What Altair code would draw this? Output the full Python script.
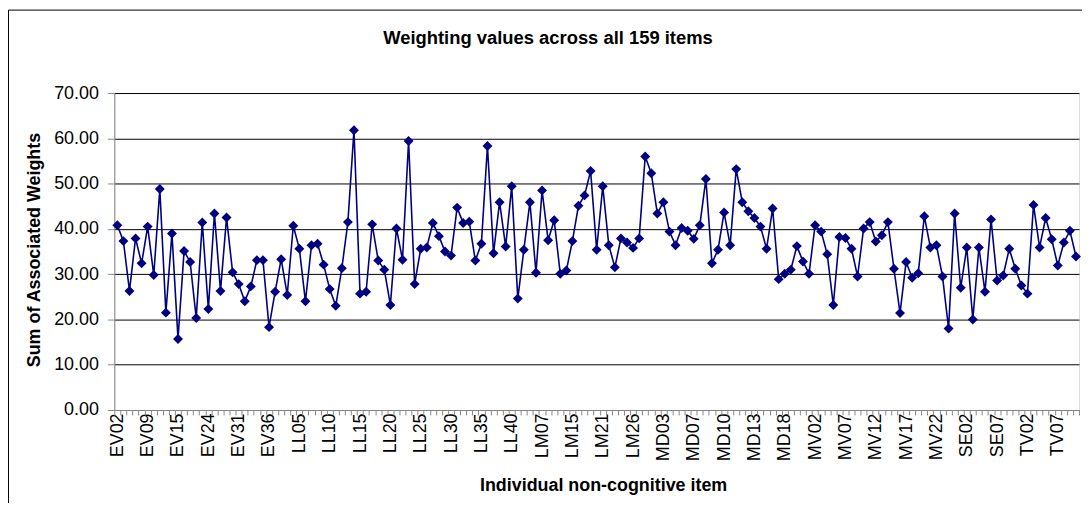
import json
import altair as alt
import pandas as pd

items = [
    "EV02","EV03","EV05","EV06","EV08","EV09","EV10","EV11","EV12","EV14",
    "EV15","EV17","EV19","EV20","EV22","EV24","EV25","EV27","EV28","EV30",
    "EV31","EV32","EV33","EV34","EV35","EV36",
    "LL01","LL02","LL03","LL04","LL05","LL06","LL07","LL08","LL09","LL10",
    "LL11","LL12","LL13","LL14","LL15","LL16","LL17","LL18","LL19","LL20",
    "LL21","LL22","LL23","LL24","LL25","LL26","LL27","LL28","LL29","LL30",
    "LL31","LL32","LL33","LL34","LL35","LL36","LL37","LL38","LL39","LL40",
    "LM03","LM04","LM05","LM06","LM07","LM09","LM10","LM12","LM14","LM15",
    "LM16","LM17","LM18","LM20","LM21","LM22","LM23","LM24","LM25","LM26",
    "LM27","LM28","MD01","MD02",
    "MD03","MD04","MD05","MD05b","MD06","MD07","MD07b","MD08","MD09","MD09b",
    "MD10","MD10b","MD11","MD12","MD12b","MD13","MD14","MD15","MD16","MD17",
    "MD18","MD19","MD20","MD21","MV01",
    "MV02","MV03","MV04","MV05","MV06","MV07","MV08","MV09","MV10","MV11",
    "MV12","MV13","MV14","MV15","MV16","MV17","MV18","MV19","MV20","MV21",
    "MV22","MV23","MV24","MV25","SE01",
    "SE02","SE03","SE04","SE05","SE06","SE07","SE08","SE09","SE10","TV01",
    "TV02","TV03","TV04","TV05","TV06","TV07","TV08","TV09","TV10",
]

weights = [
    40.8, 37.3, 26.3, 37.9, 32.4, 40.5, 29.8, 48.8, 21.5, 39.0,
    15.7, 35.1, 32.7, 20.3, 41.4, 22.3, 43.4, 26.3, 42.5, 30.4,
    27.8, 24.0, 27.3, 33.1, 33.1, 18.3, 26.1, 33.3, 25.4, 40.7,
    35.6, 24.0, 36.4, 36.7, 32.1, 26.7, 23.0, 31.3, 41.5, 61.8,
    25.7, 26.1, 41.0, 33.0, 31.0, 23.2, 40.1, 33.2, 59.4, 27.8,
    35.6, 35.9, 41.3, 38.4, 35.0, 34.1, 44.7, 41.3, 41.6, 33.0,
    36.7, 58.3, 34.6, 45.9, 36.1, 49.4, 24.6, 35.4, 45.9, 30.3,
    48.5, 37.5, 41.9, 30.1, 30.8, 37.3, 45.1, 47.4, 52.8, 35.4,
    49.4, 36.4, 31.5, 37.9, 37.0, 35.8, 37.9, 56.0, 52.3, 43.4,
    45.9, 39.4, 36.4, 40.2, 39.6, 37.8, 40.8, 51.0, 32.4, 35.4,
    43.6, 36.4, 53.2, 45.9, 43.9, 42.4, 40.5, 35.6, 44.5, 28.9,
    30.1, 31.0, 36.2, 32.8, 30.1, 40.8, 39.4, 34.4, 23.2, 38.2,
    38.0, 35.6, 29.5, 40.1, 41.5, 37.2, 38.6, 41.5, 31.2, 21.4,
    32.7, 29.2, 30.2, 42.8, 35.9, 36.4, 29.5, 18.0, 43.4, 27.0,
    35.9, 20.0, 35.9, 26.1, 42.1, 28.6, 29.7, 35.6, 31.2, 27.5,
    25.7, 45.3, 35.9, 42.4, 37.7, 31.9, 37.0, 39.6, 33.9,
]

y_ticks = [0, 10, 20, 30, 40, 50, 60, 70]
label_every = 5

n = len(items)
df = pd.DataFrame({"idx": list(range(n)), "item": items, "weight": weights})

W, H = 971, 319
FONT = "Liberation Sans"

label_values = list(range(0, n, label_every))
boundary_values = [i - 0.5 for i in range(n + 1)]
label_expr = json.dumps(items) + "[datum.value]"

x_scale = alt.Scale(domain=[-0.5, n - 0.5], nice=False, zero=False)

y_enc = alt.Y(
    "weight:Q",
    scale=alt.Scale(domain=[0, 70], nice=False, zero=True),
    axis=alt.Axis(
        values=y_ticks,
        format=".2f",
        labelFontSize=18,
        tickSize=7,
        labelPadding=9,
        grid=True,
        gridColor="#000000",
        gridWidth=1,
        title="Sum of Associated Weights",
        titleFontSize=18,
        titleFontWeight="bold",
        titleX=-80,
        titleY=H / 2 - 2,
        titleAngle=-90,
        titleBaseline="middle",
        titleAlign="center",
    ),
)

# category labels (every 5th item) with the axis title
line = alt.Chart(df).mark_line(color="#000080", strokeWidth=1.6).encode(
    x=alt.X(
        "idx:Q",
        scale=x_scale,
        axis=alt.Axis(
            orient="bottom",
            values=label_values,
            labelExpr=label_expr,
            labelAngle=-90,
            labelOverlap=False,
            labelFlush=False,
            labelFontSize=18,
            labelPadding=3,
            ticks=False,
            grid=False,
            title="Individual non-cognitive item",
            titleFontSize=18,
            titleFontWeight="bold",
            titleX=492,
            titleY=76,
            titleBaseline="middle",
            titleAlign="center",
        ),
    ),
    y=y_enc,
)

# diamond markers, carrying the category-boundary tick marks
pts = alt.Chart(df).mark_point(
    shape="diamond", filled=True, size=100, color="#000080", opacity=1
).encode(
    x=alt.X(
        "idx:Q",
        scale=x_scale,
        axis=alt.Axis(
            orient="bottom",
            values=boundary_values,
            labels=False,
            tickSize=5,
            domain=False,
            grid=False,
            title=None,
        ),
    ),
    y="weight:Q",
)

frame = alt.Chart(pd.DataFrame({"a": [0]})).mark_rect(
    fill=None, stroke="#000000", strokeWidth=1
).encode(
    x=alt.value(-106.5), x2=alt.value(W + 300),
    y=alt.value(-83.5), y2=alt.value(H + 300),
)

chart = (
    alt.layer(line, pts, frame)
    .resolve_axis(x="independent")
    .properties(
        width=W,
        height=H,
        autosize=alt.AutoSizeParams(type="none"),
        padding={"left": 107, "top": 84, "right": 3, "bottom": 92},
        title=alt.TitleParams(
            "Weighting values across all 159 items",
            fontSize=18.5,
            fontWeight="bold",
            font=FONT,
            anchor="middle",
            frame="group",
            baseline="alphabetic",
            dx=-49,
            dy=53,
            offset=0,
            color="#000000",
        ),
    )
    .configure_view(fill="#C0C0C0", stroke="#808080", strokeWidth=1)
    .configure_axis(
        labelFont=FONT,
        titleFont=FONT,
        labelColor="#000000",
        titleColor="#000000",
        domainColor="#000000",
        tickColor="#000000",
        domainWidth=1,
        tickWidth=1,
    )
    .configure(background="#FFFFFF")
)

chart.save("out.html", embed_options={"renderer": "svg", "actions": False})
